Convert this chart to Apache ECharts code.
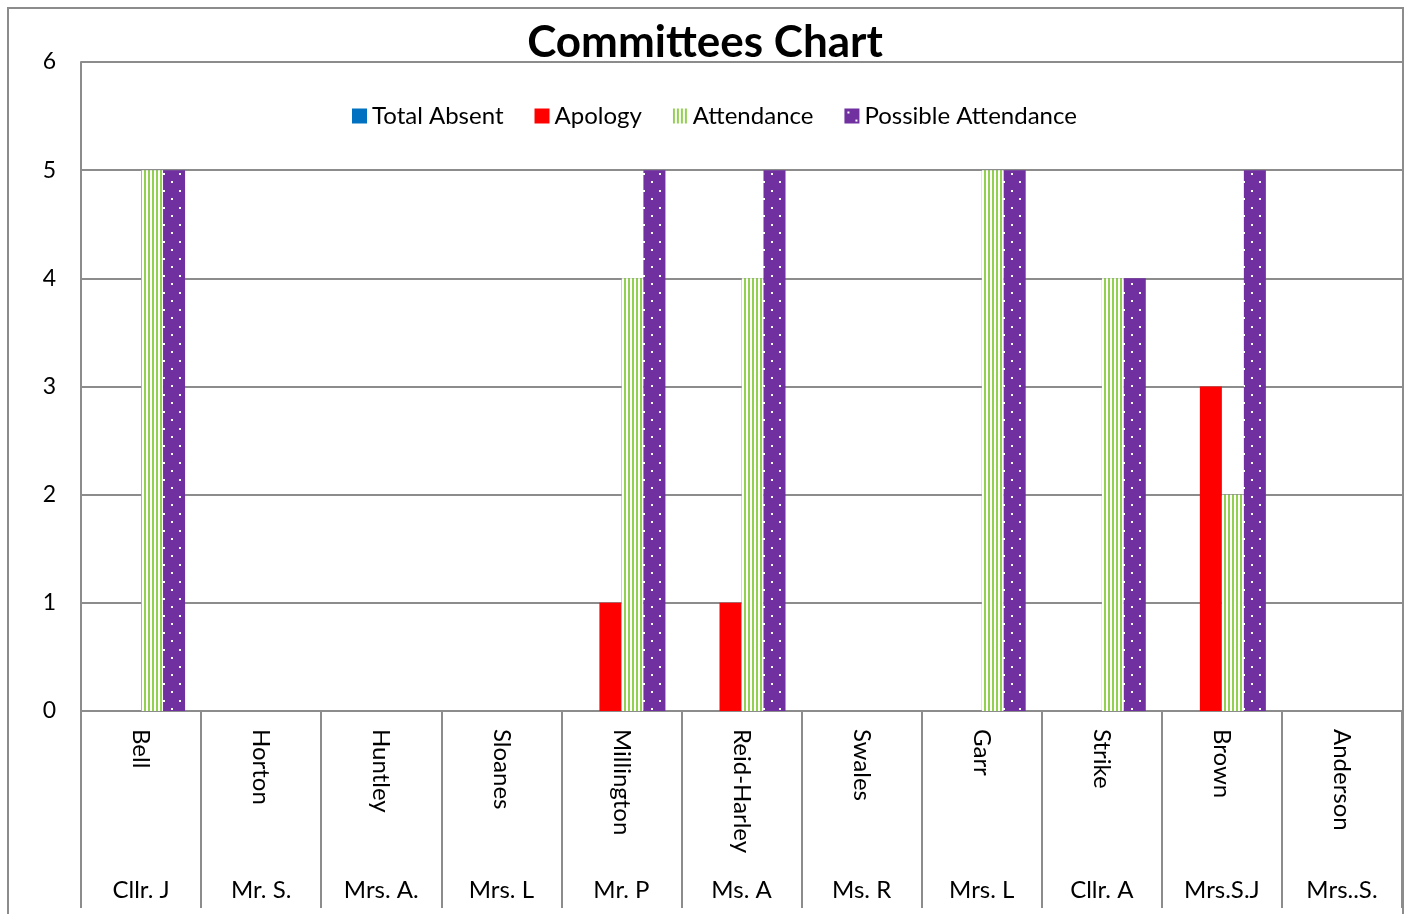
<!DOCTYPE html>
<html>
<head>
<meta charset="utf-8">
<script src="https://cdn.jsdelivr.net/npm/echarts@6/dist/echarts.min.js"></script>
<style>
html,body{margin:0;padding:0;background:#fff;}
#c{width:1410px;height:914px;}
</style>
</head>
<body>
<div id="c"></div>
<script>
// ---- data ----
var surnames = ['Bell','Horton','Huntley','Sloanes','Millington','Reid-Harley','Swales','Garr','Strike','Brown','Anderson'];
var titles = ['Cllr. J','Mr. S.','Mrs. A.','Mrs. L','Mr. P','Ms. A','Ms. R','Mrs. L','Cllr. A','Mrs.S.J','Mrs..S.'];
var totalAbsent = [0,0,0,0,0,0,0,0,0,0,0];
var apology = [0,0,0,0,1,1,0,0,0,3,0];
var attendance = [5,0,0,0,4,4,0,5,4,2,0];
var possibleAttendance = [5,0,0,0,5,5,0,5,4,5,0];
var yTicks = [0,1,2,3,4,5,6];

// ---- patterns ----
function stripePattern(){
  var c = document.createElement('canvas');
  c.width = 4; c.height = 4;
  var g = c.getContext('2d');
  g.fillStyle = '#ffffff'; g.fillRect(0,0,4,4);
  g.fillStyle = '#92D050'; g.fillRect(0,0,2,4);
  return {image: c, repeat: 'repeat'};
}
function dotPattern(){
  var c = document.createElement('canvas');
  c.width = 16; c.height = 17;
  var g = c.getContext('2d');
  g.fillStyle = '#7030A0'; g.fillRect(0,0,16,17);
  g.fillStyle = '#ffffff';
  g.fillRect(3,3,2,2);
  g.fillRect(11,11,2,2);
  return {image: c, repeat: 'repeat'};
}

var FONT = 'Lato, "Open Sans", sans-serif';
var GRAY = '#8c8c8c';

var chart = echarts.init(document.getElementById('c'));
chart.setOption({
  animation: false,
  backgroundColor: '#ffffff',
  textStyle: {fontFamily: FONT},
  title: {
    text: 'Committees Chart',
    left: 'center',
    top: 16,
    textStyle: {fontFamily: FONT, fontSize: 44, fontWeight: 'bold', color: '#000'}
  },
  legend: {
    left: 347,
    top: 99,
    itemWidth: 15,
    itemHeight: 15,
    itemGap: 31,
    icon: 'rect',
    textStyle: {fontFamily: FONT, fontSize: 24, color: '#000'},
    data: ['Total Absent','Apology','Attendance','Possible Attendance']
  },
  grid: {left: 81, top: 62, right: 8, bottom: 203},
  graphic: [{
    type: 'rect',
    shape: {x: 8, y: 8, width: 1395, height: 1000},
    style: {fill: 'none', stroke: GRAY, lineWidth: 2},
    silent: true,
    z: 100
  }],
  xAxis: [{
    type: 'category',
    data: surnames,
    axisLine: {lineStyle: {color: GRAY, width: 2}},
    axisTick: {show: true, length: 197, lineStyle: {color: GRAY, width: 2}, interval: 0},
    axisLabel: {rotate: -90, margin: 18, fontSize: 24, color: '#000', fontFamily: FONT, interval: 0}
  },{
    type: 'category',
    data: titles,
    position: 'bottom',
    offset: 167,
    axisLine: {show: false},
    axisTick: {show: false},
    axisLabel: {margin: 0, fontSize: 24, color: '#000', fontFamily: FONT, interval: 0}
  }],
  yAxis: {
    type: 'value',
    min: yTicks[0],
    max: yTicks[yTicks.length-1],
    interval: 1,
    axisLine: {show: true, lineStyle: {color: GRAY, width: 2}},
    axisTick: {show: false},
    splitLine: {lineStyle: {color: GRAY, width: 2}},
    axisLabel: {margin: 25, fontSize: 23, color: '#000', fontFamily: FONT}
  },
  series: [
    {name: 'Total Absent', type: 'bar', data: totalAbsent, barGap: '0%', barCategoryGap: '26.7%', itemStyle: {color: '#0070C0'}},
    {name: 'Apology', type: 'bar', data: apology, itemStyle: {color: '#FF0000'}},
    {name: 'Attendance', type: 'bar', data: attendance, itemStyle: {color: stripePattern()}},
    {name: 'Possible Attendance', type: 'bar', data: possibleAttendance, itemStyle: {color: dotPattern()}}
  ]
});
</script>
</body>
</html>
